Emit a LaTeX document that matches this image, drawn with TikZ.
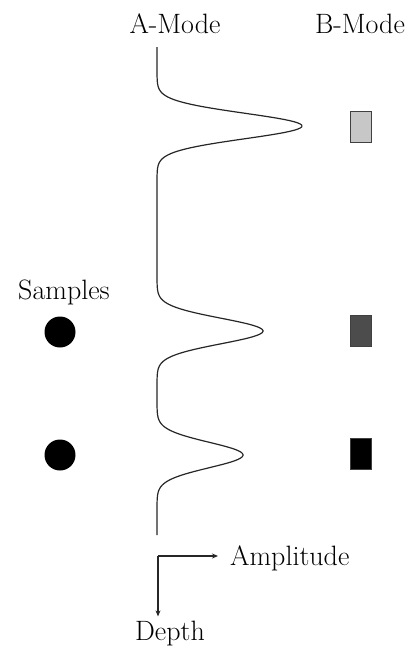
\documentclass[tikz,border=0pt]{standalone}
\usetikzlibrary{arrows.meta}
\begin{document}
\begin{tikzpicture}[x=1pt, y=-1pt,
    lbl/.style={font=\fontsize{28}{33}\selectfont, inner sep=4pt},
    dot/.style={circle, fill=black, minimum size=31pt, inner sep=0pt},
    pix/.style={rectangle, draw=black!75, line width=0.8pt, minimum width=21pt, minimum height=31pt, inner sep=0pt},
    ax/.style={-{Stealth[length=6pt, width=5pt]}, line width=1.1pt, black!85}]
  \useasboundingbox (0,0) rectangle (412,654);

  % titles
  \node[lbl, anchor=base] (amode) at (175,33) {A-Mode};
  \node[lbl, anchor=base] (bmode) at (360,33) {B-Mode};
  \node[lbl, anchor=base] (samples) at (64,299) {Samples};

  % samples
  \node[dot] (s1) at (60,332) {};
  \node[dot] (s2) at (60,455) {};

  % b-mode pixels
  \node[pix, fill=black!22] (b1) at (361,127) {};
  \node[pix, fill=black!70] (b2) at (361,331) {};
  \node[pix, fill=black] (b3) at (361,454) {};

  % a-mode echo line
  \draw[line width=1.2pt, black!85] (157,47)
    -- plot[domain=71:181, samples=90, variable=\t] ({157+145*exp(-((\t-126)/18)^2)}, \t)
    -- plot[domain=276:386, samples=90, variable=\t] ({157+106*exp(-((\t-331)/18)^2)}, \t)
    -- plot[domain=400:510, samples=90, variable=\t] ({157+86*exp(-((\t-455)/18)^2)}, \t)
    -- (157,535);

  % axes
  \coordinate (origin) at (158,556);
  \node[lbl, anchor=base west] (amp) at (226,565) {Amplitude};
  \node[lbl, anchor=base] (depth) at (170,640) {Depth};
  \draw[ax] (origin) -- ([xshift=-8pt]origin -| amp.west);
  \draw[ax] (origin) -- (origin |- depth.north);
\end{tikzpicture}
\end{document}
